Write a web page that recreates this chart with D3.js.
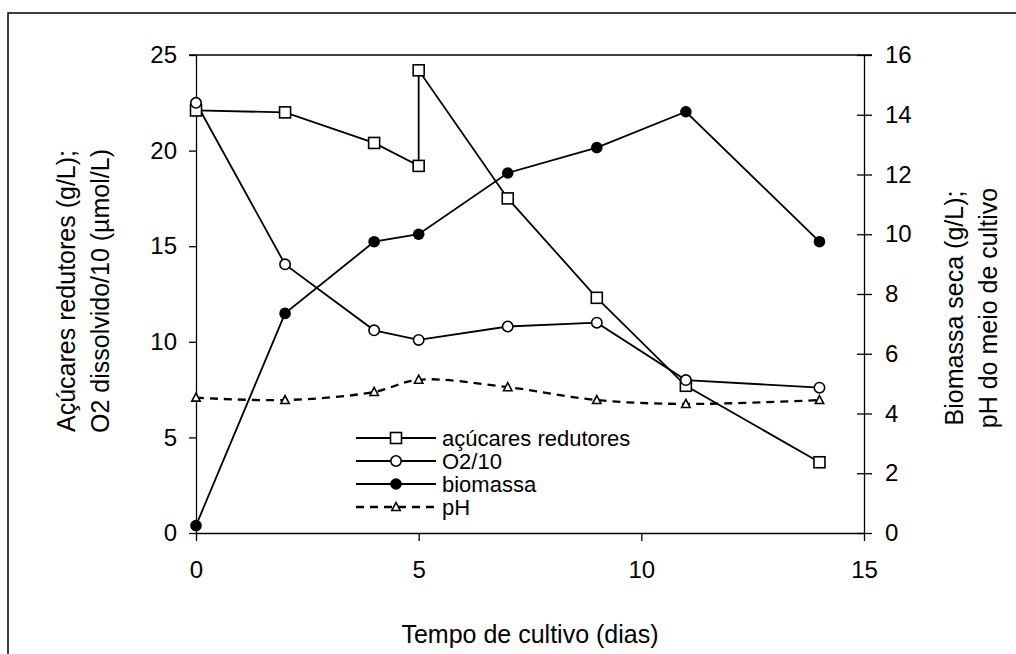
<!DOCTYPE html>
<html>
<head>
<meta charset="utf-8">
<script src="https://cdnjs.cloudflare.com/ajax/libs/d3/7.8.5/d3.min.js"></script>
<style>
  body { margin: 0; background: #fff; }
  text { font-family: "Liberation Sans", Arial, sans-serif; fill: #000; }
</style>
</head>
<body>
<script>
// data
var dias = [0, 2, 4, 5, 7, 9, 11, 14];
var diasAcucar = [0, 2, 4, 5, 5, 7, 9, 11, 14];
var acucares = [22.1, 22.0, 20.4, 19.2, 24.2, 17.5, 12.3, 7.7, 3.7];
var o2 = [22.5, 14.05, 10.6, 10.1, 10.8, 11.0, 8.0, 7.6];
var biomassa = [0.25, 7.35, 9.75, 10.0, 12.05, 12.9, 14.1, 9.75];
var ph = [4.53, 4.45, 4.72, 5.13, 4.88, 4.45, 4.32, 4.45];

var xTicks = [0, 5, 10, 15];
var leftTicks = [0, 5, 10, 15, 20, 25];
var rightTicks = [0, 2, 4, 6, 8, 10, 12, 14, 16];
var legendNames = ['açúcares redutores', 'O2/10', 'biomassa', 'pH'];

var width = 1016,
    height = 654;

var svg = d3.select('body').append('svg')
    .attr('width', width)
    .attr('height', height);

// outer chart border (runs off the right and bottom edge)
svg.append('rect')
    .attr('x', 8).attr('y', 13)
    .attr('width', 1030).attr('height', 700)
    .attr('fill', 'none').attr('stroke', '#000').attr('stroke-width', 1.5);

var x = d3.scaleLinear().domain([0, 15]).range([196, 864]);
var yL = d3.scaleLinear().domain([0, 25]).range([533, 55]);
var yR = d3.scaleLinear().domain([0, 16]).range([533, 55]);

// top line of the plot area
svg.append('line')
    .attr('x1', 189).attr('x2', 872)
    .attr('y1', yL(25)).attr('y2', yL(25))
    .attr('stroke', '#000').attr('stroke-width', 1.3);

var xAxis = svg.append('g')
    .attr('transform', 'translate(0,' + yL(0) + ')')
    .call(d3.axisBottom(x).tickValues(xTicks).tickSize(8).tickSizeOuter(0).tickPadding(20));

var leftAxis = svg.append('g')
    .attr('transform', 'translate(' + x(0) + ',0)')
    .call(d3.axisLeft(yL).tickValues(leftTicks).tickSize(7).tickSizeOuter(0).tickPadding(12));

var rightAxis = svg.append('g')
    .attr('transform', 'translate(' + x(15) + ',0)')
    .call(d3.axisRight(yR).tickValues(rightTicks).tickSize(8).tickSizeOuter(0).tickPadding(13));

// right axis ticks cross the axis line
rightAxis.selectAll('.tick line').attr('x1', -7);

[xAxis, leftAxis, rightAxis].forEach(function(a){
  a.selectAll('path, line').attr('stroke', '#000').attr('stroke-width', 1.3);
  a.selectAll('text').style('font-size', '24px').attr('fill', '#000');
});

// axis titles
svg.append('text')
    .attr('x', 530).attr('y', 643)
    .attr('text-anchor', 'middle')
    .style('font-size', '25px')
    .text('Tempo de cultivo (dias)');

var leftTitle = svg.append('text')
    .attr('transform', 'translate(75,291) rotate(-90)')
    .attr('text-anchor', 'middle')
    .style('font-size', '25px');
leftTitle.append('tspan').attr('x', 0).attr('dy', 0).text('Açúcares redutores (g/L);');
leftTitle.append('tspan').attr('x', 0).attr('dy', 34).text('O2 dissolvido/10 (µmol/L)');

var rightTitle = svg.append('text')
    .attr('transform', 'translate(963,308) rotate(-90)')
    .attr('text-anchor', 'middle')
    .style('font-size', '25px');
rightTitle.append('tspan').attr('x', 0).attr('dy', 0).text('Biomassa seca (g/L);');
rightTitle.append('tspan').attr('x', 0).attr('dy', 34).text('pH do meio de cultivo');

// series
var line = d3.line();
var lw = 1.8;

var acucarPts = diasAcucar.map(function(d, i){ return [x(d), yL(acucares[i])]; });
var o2Pts = dias.map(function(d, i){ return [x(d), yL(o2[i])]; });
var bioPts = dias.map(function(d, i){ return [x(d), yR(biomassa[i])]; });
var phPts = dias.map(function(d, i){ return [x(d), yR(ph[i])]; });

svg.append('path').attr('d', line(acucarPts))
    .attr('fill', 'none').attr('stroke', '#000').attr('stroke-width', lw);
svg.append('path').attr('d', line(o2Pts))
    .attr('fill', 'none').attr('stroke', '#000').attr('stroke-width', lw);
svg.append('path').attr('d', line(bioPts))
    .attr('fill', 'none').attr('stroke', '#000').attr('stroke-width', lw);
svg.append('path').attr('d', d3.line().curve(d3.curveCatmullRom)(phPts))
    .attr('fill', 'none').attr('stroke', '#000').attr('stroke-width', 2.3)
    .attr('stroke-dasharray', '8,6');

var square = function(sel){
  return sel.append('rect')
      .attr('x', function(d){ return d[0] - 5.5; })
      .attr('y', function(d){ return d[1] - 5.5; })
      .attr('width', 11).attr('height', 11)
      .attr('fill', '#fff').attr('stroke', '#000').attr('stroke-width', 1.6);
};
var openCircle = function(sel){
  return sel.append('circle')
      .attr('cx', function(d){ return d[0]; })
      .attr('cy', function(d){ return d[1]; })
      .attr('r', 5.2)
      .attr('fill', '#fff').attr('stroke', '#000').attr('stroke-width', 1.6);
};
var dot = function(sel){
  return sel.append('circle')
      .attr('cx', function(d){ return d[0]; })
      .attr('cy', function(d){ return d[1]; })
      .attr('r', 5.8)
      .attr('fill', '#000');
};
var tri = function(sel){
  return sel.append('path')
      .attr('d', function(d){
        return 'M' + d[0] + ',' + (d[1] - 4.5) + 'L' + (d[0] + 4.2) + ',' + (d[1] + 3.5) +
                'L' + (d[0] - 4.2) + ',' + (d[1] + 3.5) + 'Z';
      })
      .attr('fill', '#fff').attr('stroke', '#000').attr('stroke-width', 1.6);
};

square(svg.append('g').selectAll('g').data(acucarPts).enter());
openCircle(svg.append('g').selectAll('g').data(o2Pts).enter());
dot(svg.append('g').selectAll('g').data(bioPts).enter());
tri(svg.append('g').selectAll('g').data(phPts).enter());

// legend
var markers = [square, openCircle, dot, tri];
var legend = svg.append('g');
legendNames.forEach(function(name, i){
  var ly = 438 + i * 23;
  legend.append('line')
      .attr('x1', 356).attr('x2', 436)
      .attr('y1', ly).attr('y2', ly)
      .attr('stroke', '#000')
      .attr('stroke-width', i == 3 ? 2.3 : lw)
      .attr('stroke-dasharray', i == 3 ? '8,6' : null);
  markers[i](legend.append('g').selectAll('g').data([[396, ly]]).enter());
  legend.append('text')
      .attr('x', 442).attr('y', ly)
      .attr('dy', '0.35em')
      .style('font-size', '22px')
      .text(name);
});
</script>
</body>
</html>
